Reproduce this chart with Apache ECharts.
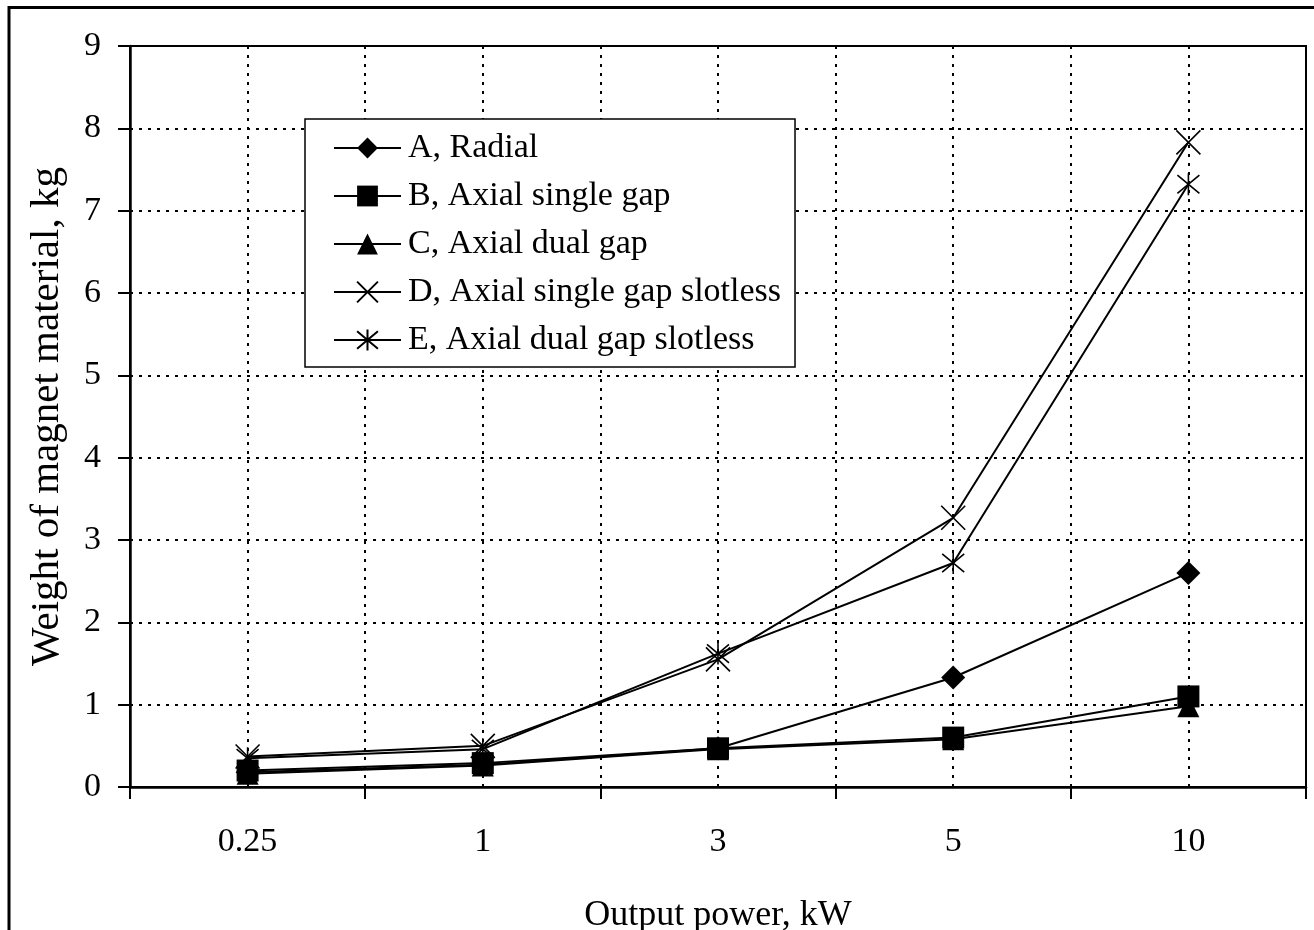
<!DOCTYPE html>
<html>
<head>
<meta charset="utf-8">
<script src="https://cdn.jsdelivr.net/npm/echarts@6/dist/echarts.min.js"></script>
<style>
  html, body { margin: 0; padding: 0; background: #fff; }
  #main { width: 1314px; height: 930px; }
</style>
</head>
<body>
<div id="main"></div>
<script type="text/javascript">
  // output power categories (kW)
  var powerKW = ['0.25', '1', '3', '5', '10'];
  // weight of magnet material, kg
  var radialA = [0.18, 0.27, 0.47, 1.33, 2.6];
  var axialSingleB = [0.2, 0.29, 0.47, 0.6, 1.1];
  var axialDualC = [0.16, 0.26, 0.46, 0.58, 0.98];
  var singleSlotlessD = [0.37, 0.5, 1.55, 3.27, 7.83];
  var dualSlotlessE = [0.35, 0.46, 1.62, 2.72, 7.32];
  var seriesNames = ['A, Radial', 'B, Axial single gap', 'C, Axial dual gap',
    'D, Axial single gap slotless', 'E, Axial dual gap slotless'];

  var serif = "'Liberation Serif', 'DejaVu Serif', serif";
  var crossPath = 'path://M0,0L20,20M20,0L0,20';
  var starPath = 'path://M0,0L20,20M20,0L0,20M10,-2L10,22';

  function filled(name, data, symbol, size) {
    return {
      name: name, type: 'line', data: data,
      symbol: symbol, symbolSize: size,
      itemStyle: { color: '#000' },
      lineStyle: { color: '#000', width: 2 }
    };
  }
  function stroked(name, data, symbol, size) {
    return {
      name: name, type: 'line', data: data,
      symbol: symbol, symbolSize: size,
      itemStyle: { color: 'none', borderColor: '#000', borderWidth: 1.6 },
      lineStyle: { color: '#000', width: 2 }
    };
  }

  var chart = echarts.init(document.getElementById('main'));
  chart.setOption({
    backgroundColor: '#fff',
    animation: false,
    textStyle: { fontFamily: serif, color: '#000' },
    graphic: [{
      type: 'rect',
      shape: { x: 9, y: 7.5, width: 1400, height: 1000 },
      style: { fill: 'none', stroke: '#000', lineWidth: 3 },
      silent: true
    }],
    grid: {
      left: 130, top: 46, right: 8, bottom: 143,
      containLabel: false,
      outerBoundsMode: 'none',
      show: true, borderColor: '#000', borderWidth: 2, backgroundColor: '#fff'
    },
    legend: {
      orient: 'vertical',
      left: 305, top: 119,
      data: seriesNames,
      backgroundColor: '#fff',
      borderColor: '#000', borderWidth: 1.5,
      padding: [12, 14, 10, 28],
      itemWidth: 67, itemHeight: 26, itemGap: 14,
      textStyle: { fontFamily: serif, fontSize: 34, lineHeight: 34, color: '#000', padding: [0, 0, 0, 2] }
    },
    xAxis: [{
      type: 'category',
      data: powerKW,
      boundaryGap: true,
      name: 'Output power, kW',
      nameLocation: 'middle',
      nameGap: 111,
      nameTextStyle: { fontFamily: serif, fontSize: 36, color: '#000' },
      axisLine: { lineStyle: { color: '#000', width: 2.5 } },
      axisTick: { show: true, inside: false, length: 12, lineStyle: { color: '#000', width: 2 } },
      axisLabel: { margin: 38, fontFamily: serif, fontSize: 34, color: '#000' },
      splitLine: { show: false }
    }, {
      // dotted vertical grid at category centres and boundaries
      type: 'value', min: 0, max: 5, interval: 0.5,
      position: 'top',
      axisLine: { show: false }, axisTick: { show: false }, axisLabel: { show: false },
      splitLine: { show: true, lineStyle: { color: '#000', width: 2, type: [3, 6] } }
    }],
    yAxis: {
      type: 'value',
      min: 0, max: 9, interval: 1,
      name: 'Weight of magnet material, kg',
      nameLocation: 'middle',
      nameGap: 62,
      nameTextStyle: { fontFamily: serif, fontSize: 41, color: '#000' },
      axisLine: { show: true, lineStyle: { color: '#000', width: 2.5 } },
      axisTick: { show: true, inside: false, length: 12, lineStyle: { color: '#000', width: 2 } },
      axisLabel: { margin: 29, fontFamily: serif, fontSize: 34, color: '#000' },
      splitLine: { show: true, lineStyle: { color: '#000', width: 2, type: [3, 6] } }
    },
    series: [
      filled(seriesNames[0], radialA, 'diamond', 24),
      filled(seriesNames[1], axialSingleB, 'rect', 22),
      filled(seriesNames[2], axialDualC, 'triangle', 22),
      stroked(seriesNames[3], singleSlotlessD, crossPath, 24),
      stroked(seriesNames[4], dualSlotlessE, starPath, 22)
    ]
  });
</script>
</body>
</html>
